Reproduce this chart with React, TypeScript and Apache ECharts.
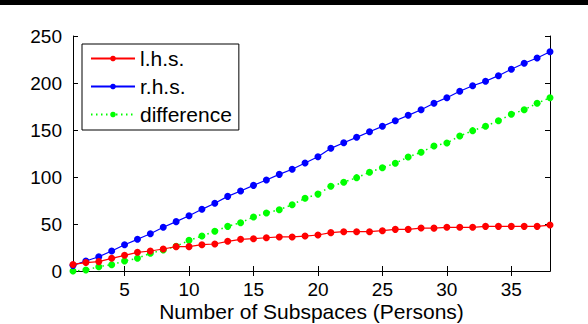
import React, { useEffect, useRef } from "react";
import * as echarts from "echarts";

const persons = Array.from({ length: 38 }, (_, i) => i + 1);
const lhs = [7, 9, 10, 13.5, 16.7, 19.9, 21.3, 23.4, 25.9, 25.9, 28, 28.7, 31.6, 33.7, 34.4, 35.4, 36.2, 36.2, 37.2, 38.3, 40.8, 41.8, 41.8, 41.8, 42.9, 44.3, 44.3, 45.7, 45.6, 46.5, 46.5, 46.5, 47.5, 47.5, 47.5, 47.5, 47.5, 48.9];
const rhs = [6, 10.6, 15.2, 21.3, 28, 33.7, 39.7, 46.5, 52.5, 58.7, 65.6, 72, 79.4, 85.1, 91.1, 96.8, 102.8, 108.2, 114.9, 121.5, 130.5, 136.5, 142.2, 148.2, 153.9, 159.9, 165.6, 171.6, 178.4, 184.4, 191.2, 197.1, 201.8, 207.8, 214.6, 221, 226.6, 233.3];
const difference = [0, 1, 4.6, 6.7, 10.6, 13.5, 18.8, 22.3, 26.3, 32.6, 37.2, 42.2, 47.5, 51.4, 57.4, 61.7, 65.2, 70.5, 77.3, 81.8, 90.1, 94.4, 99.3, 105, 109.9, 114.6, 121.3, 126.3, 133, 136.2, 143.6, 149.3, 153.9, 159.9, 166.7, 171.6, 178.4, 184.4];
const xTicks = [5, 10, 15, 20, 25, 30, 35];
const yTicks = [0, 50, 100, 150, 200, 250];

const FONT = "Liberation Sans";

export default function App() {
  const ref = useRef<HTMLDivElement>(null);
  useEffect(() => {
    if (!ref.current) return;
    const chart = echarts.init(ref.current, null, { renderer: "svg" });
    const mk = (arr: number[]) => arr.map((v, i) => [persons[i], v]);
    const axisLine = { show: true, lineStyle: { color: "#000", width: 1 } };
    const tick = { show: true, inside: true, length: 5, lineStyle: { color: "#000" } };
    chart.setOption({
      animation: false,
      backgroundColor: "#fff",
      textStyle: { fontFamily: FONT },
      graphic: [
        { type: "rect", left: 0, top: 0, shape: { width: 588, height: 5 }, style: { fill: "#000" } },
      ],
      grid: { left: 73, right: 38, top: 36, bottom: 53, containLabel: false, outerBoundsMode: "none" },
      legend: {
        orient: "vertical",
        left: 82,
        top: 44,
        padding: [4, 7, 5, 8],
        itemGap: 7,
        itemWidth: 44,
        itemHeight: 7,
        borderColor: "#000",
        borderWidth: 1,
        backgroundColor: "#fff",
        textStyle: { fontFamily: FONT, fontSize: 21, color: "#000" },
        data: ["l.h.s.", "r.h.s.", "difference"],
      },
      xAxis: [
        {
          type: "value",
          min: 1,
          max: 38,
          position: "bottom",
          axisLine,
          axisTick: { ...tick, customValues: xTicks },
          axisLabel: { customValues: xTicks, color: "#000", fontSize: 19, fontFamily: FONT, margin: 9 },
          splitLine: { show: false },
          name: "Number of Subspaces (Persons)",
          nameLocation: "middle",
          nameGap: 30,
          nameMoveOverlap: false,
          nameTextStyle: { color: "#000", fontSize: 21, fontFamily: FONT, lineHeight: 21 },
        },
        {
          type: "value",
          min: 1,
          max: 38,
          position: "top",
          axisLine,
          axisTick: { ...tick, customValues: xTicks },
          axisLabel: { show: false, customValues: xTicks },
          splitLine: { show: false },
        },
      ],
      yAxis: [
        {
          type: "value",
          min: 0,
          max: 250,
          interval: 50,
          position: "left",
          axisLine,
          axisTick: tick,
          axisLabel: { color: "#000", fontSize: 19, fontFamily: FONT, margin: 11, customValues: yTicks },
          splitLine: { show: false },
        },
        {
          type: "value",
          min: 0,
          max: 250,
          interval: 50,
          position: "right",
          axisLine,
          axisTick: tick,
          axisLabel: { show: false },
          splitLine: { show: false },
        },
      ],
      series: [
        {
          name: "l.h.s.",
          type: "line",
          data: mk(lhs),
          symbol: "circle",
          symbolSize: 7,
          color: "#ff0000",
          lineStyle: { color: "#ff0000", width: 1.2 },
          itemStyle: { color: "#ff0000" },
          z: 3,
        },
        {
          name: "r.h.s.",
          type: "line",
          data: mk(rhs),
          symbol: "circle",
          symbolSize: 7,
          color: "#0000ff",
          lineStyle: { color: "#0000ff", width: 1.2 },
          itemStyle: { color: "#0000ff" },
          z: 2,
        },
        {
          name: "difference",
          type: "line",
          data: mk(difference),
          symbol: "circle",
          symbolSize: 7,
          color: "#00ff00",
          lineStyle: { color: "#00ff00", width: 1.5, type: [1.5, 3.5] },
          itemStyle: { color: "#00ff00" },
          z: 1,
        },
      ],
    });
    return () => chart.dispose();
  }, []);
  return (
    <div
      ref={ref}
      style={{ position: "fixed", left: 0, top: 0, width: 588, height: 324, background: "#fff" }}
    />
  );
}
